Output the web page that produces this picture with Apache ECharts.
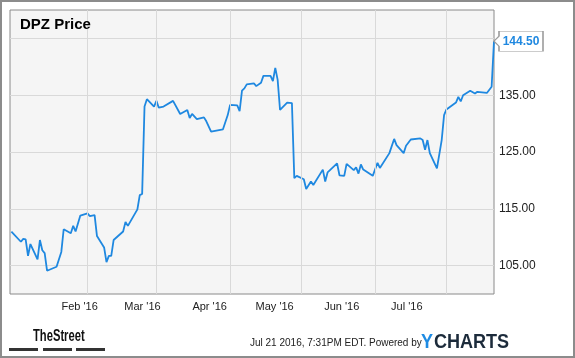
<!DOCTYPE html>
<html><head><meta charset="utf-8">
<script src="https://cdn.jsdelivr.net/npm/echarts@6.0.0/dist/echarts.min.js"></script>
<style>html,body{margin:0;padding:0;background:#fff}#c{width:575px;height:358px}</style>
</head><body><div id="c"></div>
<script>
const dates = ['2015-12-31','2016-01-04','2016-01-05','2016-01-06','2016-01-07','2016-01-08','2016-01-11','2016-01-12','2016-01-13','2016-01-14','2016-01-15','2016-01-19','2016-01-21','2016-01-22','2016-01-25','2016-01-26','2016-01-27','2016-01-29','2016-02-01','2016-02-02','2016-02-04','2016-02-05','2016-02-08','2016-02-09','2016-02-10','2016-02-11','2016-02-12','2016-02-16','2016-02-17','2016-02-18','2016-02-22','2016-02-23','2016-02-24','2016-02-25','2016-02-26','2016-02-29','2016-03-01','2016-03-02','2016-03-04','2016-03-08','2016-03-11','2016-03-14','2016-03-15','2016-03-16','2016-03-18','2016-03-21','2016-03-22','2016-03-24','2016-03-29','2016-03-31','2016-04-01','2016-04-04','2016-04-05','2016-04-06','2016-04-07','2016-04-08','2016-04-11','2016-04-12','2016-04-14','2016-04-15','2016-04-18','2016-04-19','2016-04-20','2016-04-21','2016-04-22','2016-04-25','2016-04-27','2016-04-28','2016-04-29','2016-05-02','2016-05-03','2016-05-05','2016-05-06','2016-05-10','2016-05-11','2016-05-12','2016-05-16','2016-05-17','2016-05-19','2016-05-20','2016-05-23','2016-05-24','2016-05-25','2016-05-26','2016-05-27','2016-05-31','2016-06-02','2016-06-03','2016-06-07','2016-06-09','2016-06-10','2016-06-13','2016-06-14','2016-06-16','2016-06-20','2016-06-21','2016-06-22','2016-06-23','2016-06-24','2016-06-27','2016-06-29','2016-06-30','2016-07-01','2016-07-05','2016-07-06','2016-07-07','2016-07-08','2016-07-11','2016-07-13','2016-07-14','2016-07-18','2016-07-20','2016-07-21'];
const prices = [111.0,109.2,109.7,109.6,106.7,108.8,106.1,109.5,107.7,107.2,104.1,104.8,107.4,111.4,110.7,112.0,111.0,113.8,114.2,113.7,113.9,110.2,108.2,105.6,106.7,106.7,109.5,111.0,112.7,112.0,114.9,117.4,117.6,133.0,134.3,133.0,134.0,132.8,133.0,134.0,131.7,132.4,131.0,131.7,130.8,131.1,130.4,128.6,129.0,131.5,133.3,133.2,132.2,135.8,136.2,136.9,137.1,136.6,137.2,138.4,138.4,137.5,139.8,137.7,132.4,133.7,133.6,120.4,120.8,120.2,118.5,119.8,119.2,121.9,119.8,121.4,123.0,120.9,120.8,122.9,121.8,122.3,121.2,122.8,121.9,120.8,123.1,122.2,124.8,127.3,126.2,124.8,126.1,127.2,127.4,127.1,125.4,127.1,124.8,122.1,127.1,131.5,132.5,133.7,134.7,133.9,135.0,135.8,135.3,135.6,135.4,136.5,144.5];
const monthStarts = ['2016-02-01','2016-03-01','2016-04-01','2016-05-01','2016-06-01','2016-07-01'];
const monthLabels = ["Feb '16","Mar '16","Apr '16","May '16","Jun '16","Jul '16"];
const yTickLabels = ['105.00','115.00','125.00','135.00'];
const lastLabel = '144.50';
const titleText = 'DPZ Price';
const footerText = 'Jul 21 2016, 7:31PM EDT. Powered by';

const FONT = '"Liberation Sans", Arial, sans-serif';
const BLUE = '#1f88e0';
const xMin = '2015-12-30 10:00:00';
const xMax = '2016-07-21';

function dayKey(v){const d=new Date(v);const m=d.getMonth()+1, dd=d.getDate();return d.getFullYear()+'-'+(m<10?'0':'')+m+'-'+(dd<10?'0':'')+dd;}

const chart = echarts.init(document.getElementById('c'), null, {renderer:'canvas'});
const n = dates.length;
chart.setOption({
  animation:false,
  backgroundColor:'#ffffff',
  title:{text:titleText,left:15,top:12,textStyle:{fontFamily:FONT,fontSize:15,fontWeight:'bold',color:'#000'}},
  grid:[
    {left:10,top:10,right:81,bottom:64,show:true,backgroundColor:'#f5f5f5',borderColor:'#8a8a8a',borderWidth:1},
    {left:9.1,top:10,width:441,bottom:64,show:false}
  ],
  xAxis:[
    {type:'time',gridIndex:0,min:xMin,max:xMax,axisLine:{show:false},axisTick:{show:false},axisLabel:{show:false},splitLine:{show:false}},
    {type:'time',gridIndex:1,min:xMin,max:xMax,splitNumber:7,axisLine:{show:false},axisTick:{show:false},splitLine:{show:false},
     axisLabel:{show:true,margin:7,fontFamily:FONT,fontSize:11,color:'#222',hideOverlap:false,
       formatter:function(v){const i=monthStarts.indexOf(dayKey(v));return i>=0?monthLabels[i]:'';}}}
  ],
  yAxis:[
    {type:'value',gridIndex:0,position:'right',min:100,max:150,interval:5,
     axisLine:{show:false},axisTick:{show:false},
     axisLabel:{margin:5,fontFamily:FONT,fontSize:12,color:'#222',
       formatter:function(v){const s=v.toFixed(2);return yTickLabels.indexOf(s)>=0?s:'';}},
     splitLine:{show:true,showMinLine:true,showMaxLine:true,lineStyle:{color:['rgba(0,0,0,0)','#d9d9d9'],width:1}}},
    {type:'value',gridIndex:1,show:false,min:100,max:150}
  ],
  series:[
    {type:'line',xAxisIndex:0,yAxisIndex:0,data:[],z:1,silent:true,
     markLine:{silent:true,symbol:['none','none'],label:{show:false},emphasis:{disabled:true},
       lineStyle:{color:'#d9d9d9',type:'solid',width:1},
       data:monthStarts.map(d=>({xAxis:d}))}},
    {type:'line',xAxisIndex:0,yAxisIndex:0,z:3,showSymbol:false,symbol:'none',
     lineStyle:{color:BLUE,width:1.8},itemStyle:{color:BLUE},
     data:dates.map((d,i)=>[d,prices[i]]),
     markPoint:{silent:true,symbol:'path://M0,10 L5,5 L5,0 L49,0 L49,20 L5,20 L5,15 Z',symbolSize:[49,20],symbolOffset:[24.5,0],
       itemStyle:{color:'#ffffff',borderColor:'#9a9a9a',borderWidth:1},
       label:{show:true,position:'inside',offset:[2.5,0],formatter:lastLabel,color:BLUE,fontWeight:'bold',fontSize:12,fontFamily:FONT},
       data:[{coord:[dates[n-1],prices[n-1]]}]}}
  ],
  graphic:[
    {type:'rect',shape:{x:1,y:1,width:573,height:356},style:{fill:'none',stroke:'#8c8c8c',lineWidth:2},silent:true,z:100},
    {type:'group',left:33,top:329,scaleX:0.7,children:[
      {type:'text',x:0,y:0,style:{text:'TheStreet',font:'bold 16px "Liberation Sans", Arial, sans-serif',fill:'#111'}}
    ]},
    {type:'rect',shape:{x:9,y:348,width:29,height:3},style:{fill:'#333'}},
    {type:'rect',shape:{x:43,y:348,width:29,height:3},style:{fill:'#333'}},
    {type:'rect',shape:{x:76,y:348,width:29,height:3},style:{fill:'#333'}},
    {type:'text',left:250,top:338,style:{text:footerText,font:'10px '+FONT,fill:'#222'}},
    {type:'group',left:421,top:332,scaleX:0.86,children:[
      {type:'text',x:0,y:0,style:{text:'Y',font:'bold 21px '+FONT,fill:'#1e8be3'}},
      {type:'text',x:15,y:0,style:{text:'CHARTS',font:'bold 21px '+FONT,fill:'#1c2b3b'}}
    ]}
  ]
});
</script></body></html>
